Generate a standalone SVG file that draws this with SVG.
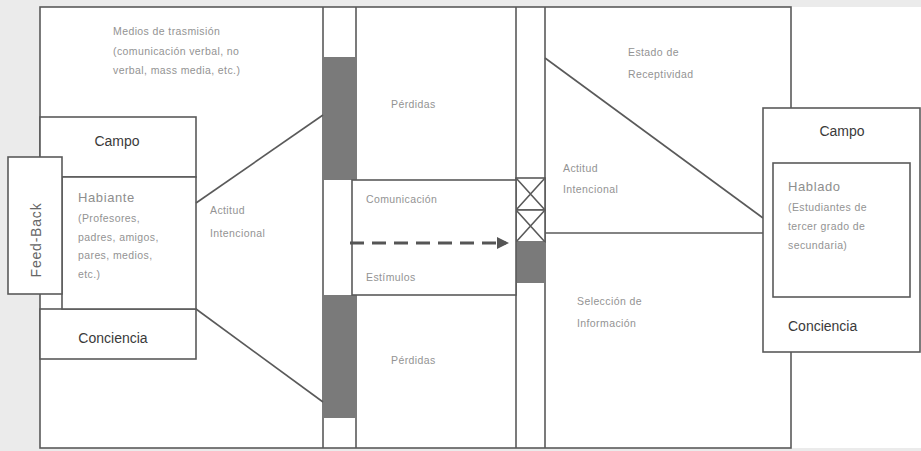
<svg xmlns="http://www.w3.org/2000/svg" width="921" height="451" viewBox="0 0 921 451">
<style>
.ln{fill:none;stroke:#5a5a5a;stroke-width:1.6}
.bx{fill:#fff;stroke:#5a5a5a;stroke-width:1.6}
.gr{fill:#7a7a7a}
.big{font-family:"Liberation Sans",Arial,sans-serif;font-size:14px;fill:#3a3a3a}
.sm{font-family:"Liberation Sans",Arial,sans-serif;font-size:10.5px;fill:#939393;letter-spacing:0.4px}
.md{font-family:"Liberation Sans",Arial,sans-serif;font-size:13px;fill:#8e8e8e;letter-spacing:0.6px}
</style>
<defs>
<marker id="ah" markerWidth="4" markerHeight="4" refX="3" refY="2" orient="auto" markerUnits="strokeWidth">
<path d="M0,0 L4,2 L0,4 Z" fill="#555"/>
</marker>
</defs>
<rect x="0" y="0" width="921" height="451" fill="#ebebeb"/>
<rect x="40" y="7" width="881" height="441" fill="#fff"/>

<g id="frame">
<rect class="ln" x="40" y="7" width="751" height="441"/>
<line class="ln" x1="323" y1="7" x2="323" y2="448"/>
<line class="ln" x1="356" y1="7" x2="356" y2="180"/>
<line class="ln" x1="356" y1="295" x2="356" y2="448"/>
<line class="ln" x1="516" y1="7" x2="516" y2="448"/>
<line class="ln" x1="545" y1="7" x2="545" y2="448"/>
</g>

<g id="bar-left">
<rect class="gr" x="323" y="57" width="33" height="123"/>
<rect class="gr" x="323" y="295" width="33" height="123"/>
</g>

<g id="bar-right">
<rect class="bx" x="516" y="178" width="29" height="32"/>
<rect class="bx" x="516" y="210" width="29" height="32"/>
<path class="ln" d="M516,178 L545,210 M545,178 L516,210 M516,210 L545,242 M545,210 L516,242" stroke-width="1"/>
<rect class="gr" x="516" y="242" width="29" height="41"/>
</g>

<g id="medios">
<text class="sm" x="113" y="35">Medios de trasmisión</text>
<text class="sm" x="113" y="55">(comunicación verbal, no</text>
<text class="sm" x="113" y="74">verbal, mass media, etc.)</text>
</g>

<g id="campo-left">
<rect class="bx" x="40" y="117" width="156" height="60"/>
<text class="big" x="117" y="146" text-anchor="middle">Campo</text>
</g>

<g id="conciencia-left">
<rect class="bx" x="40" y="309" width="156" height="50"/>
<text class="big" x="113" y="343" text-anchor="middle">Conciencia</text>
</g>

<g id="habiante">
<rect class="bx" x="62" y="177" width="134" height="132"/>
<text class="md" x="78" y="202">Habiante</text>
<text class="sm" x="78" y="222">(Profesores,</text>
<text class="sm" x="78" y="241">padres, amigos,</text>
<text class="sm" x="78" y="259">pares, medios,</text>
<text class="sm" x="78" y="278">etc.)</text>
</g>

<g id="feedback">
<rect class="bx" x="8" y="157" width="54" height="137"/>
<text x="0" y="0" text-anchor="middle" transform="translate(41,240) rotate(-90)" style="font-family:'Liberation Sans',Arial,sans-serif;font-size:14px;fill:#666;letter-spacing:0.8px">Feed-Back</text>
</g>

<g id="actitud-left">
<text class="sm" x="210" y="214">Actitud</text>
<text class="sm" x="210" y="237">Intencional</text>
</g>

<g id="perdidas-top">
<text class="sm" x="391" y="108">Pérdidas</text>
</g>

<g id="comunicacion">
<rect class="bx" x="352" y="180" width="164" height="115"/>
<text class="sm" x="366" y="203">Comunicación</text>
<text class="sm" x="366" y="281">Estímulos</text>
</g>

<g id="perdidas-bottom">
<text class="sm" x="391" y="364">Pérdidas</text>
</g>

<g id="estado">
<text class="sm" x="628" y="56">Estado de</text>
<text class="sm" x="628" y="78">Receptividad</text>
</g>

<g id="actitud-right">
<text class="sm" x="563" y="172">Actitud</text>
<text class="sm" x="563" y="193">Intencional</text>
</g>

<g id="seleccion">
<text class="sm" x="577" y="305">Selección de</text>
<text class="sm" x="577" y="327">Información</text>
</g>

<g id="connectors">
<line class="ln" x1="196" y1="203" x2="323" y2="115"/>
<line class="ln" x1="196" y1="309" x2="323" y2="402"/>
<line class="ln" x1="545" y1="58" x2="763" y2="218"/>
<line class="ln" x1="545" y1="233" x2="763" y2="233"/>
<line x1="350" y1="243" x2="506" y2="243" stroke="#555" stroke-width="3" stroke-dasharray="14,8" marker-end="url(#ah)"/>
</g>

<g id="receptor">
<rect class="bx" x="763" y="108" width="157" height="244"/>
<text class="big" x="842" y="136" text-anchor="middle">Campo</text>
<text class="big" x="788" y="331">Conciencia</text>
</g>

<g id="hablado">
<rect class="bx" x="773" y="163" width="137" height="134"/>
<text class="md" x="788" y="191">Hablado</text>
<text class="sm" x="788" y="211">(Estudiantes de</text>
<text class="sm" x="788" y="230">tercer grado de</text>
<text class="sm" x="788" y="249">secundaria)</text>
</g>
</svg>
